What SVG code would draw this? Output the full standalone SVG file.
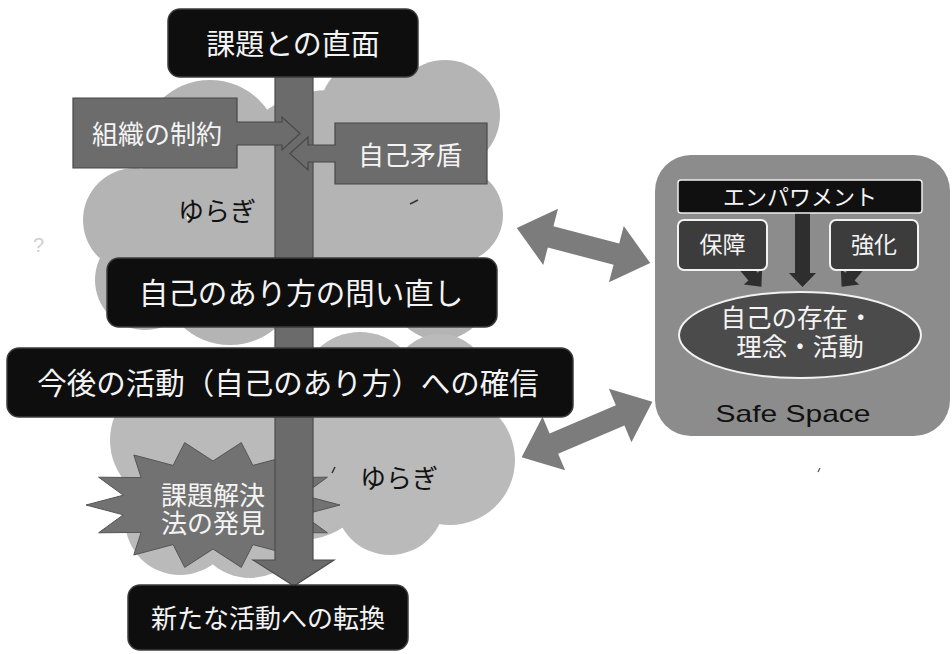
<svg xmlns="http://www.w3.org/2000/svg" width="952" height="654" viewBox="0 0 952 654">
<style>
.cloud1 { fill:#b4b4b4; }
.cloud2 { fill:#bababa; }
.jp { font-family:"Noto Sans CJK JP","Noto Sans CJK SC",sans-serif; text-anchor:middle; }
.wt { fill:#f4f4f4; }
.bk { fill:#111; }
.blackbox { fill:#0e0e0e; stroke:#3c3c3c; stroke-width:1.5; }
.graybox { fill:#6c6c6c; stroke:#474747; stroke-width:1.2; }
.shaft { fill:#6b6b6b; stroke:#4c4c4c; stroke-width:1.2; }
.dbl { fill:#7c7c7c; }
.panelarrow { fill:#2e2e2e; }
.inner { fill:#3c3c3c; stroke:#f2f2f2; stroke-width:2; }
</style>

<rect x="0" y="0" width="952" height="654" fill="#ffffff"/>

<g id="cloud-upper" class="cloud1">
  <circle cx="210" cy="150" r="70"/>
  <circle cx="135" cy="220" r="52"/>
  <circle cx="145" cy="280" r="50"/>
  <circle cx="445" cy="115" r="55"/>
  <circle cx="455" cy="215" r="48"/>
  <circle cx="440" cy="290" r="50"/>
  <circle cx="330" cy="200" r="110"/>
  <circle cx="230" cy="275" r="70"/>
  <circle cx="370" cy="110" r="50"/>
</g>
<g id="cloud-lower" class="cloud2">
  <circle cx="175" cy="440" r="65"/>
  <circle cx="360" cy="392" r="60"/>
  <circle cx="440" cy="382" r="48"/>
  <circle cx="450" cy="460" r="65"/>
  <circle cx="390" cy="500" r="55"/>
  <circle cx="250" cy="520" r="58"/>
  <circle cx="180" cy="520" r="55"/>
  <circle cx="300" cy="460" r="80"/>
</g>

<text x="33" y="252" font-family="Liberation Sans, sans-serif" font-size="20" fill="#cfcfcf">?</text>

<g id="safe-space">
  <rect x="655" y="155" width="295" height="281" rx="36" fill="#8c8c8c"/>
  <text x="793" y="422" font-family="Liberation Sans, sans-serif" font-size="24" fill="#111" text-anchor="middle" textLength="155" lengthAdjust="spacingAndGlyphs">Safe Space</text>
</g>

<g id="discovery">
  <polygon fill="#727272" stroke="#555" stroke-width="1" points="340,505 302.7,514.8 327.4,532.8 284.9,532.4 292.2,555 252.9,544.6 241.3,567.4 213,549 184.7,567.4 173.1,544.6 133.8,555 141.1,532.4 98.6,532.8 123.3,514.8 86,505 123.3,495.2 98.6,477.2 141.1,477.6 133.8,455 173.1,465.4 184.7,442.6 213,461 241.3,442.6 252.9,465.4 292.2,455 284.9,477.6 327.4,477.2 302.7,495.2"/>
  <text class="jp wt" font-size="26"><tspan x="213" y="505">課題解決</tspan><tspan x="213" y="533">法の発見</tspan></text>
</g>

<g id="connectors">
  <path class="shaft" d="M275,70 H313 V560 H334 L294,586 L253,560 H275 Z"/>
  <polygon class="dbl" points="-69,0 -34,-29 -34,-11 34,-11 34,-29 69,0 34,29 34,11 -34,11 -34,29" transform="translate(583.5,245.5) rotate(14.74)"/>
  <polygon class="dbl" points="-71,0 -36,-29 -36,-11 36,-11 36,-29 71,0 36,29 36,11 -36,11 -36,29" transform="translate(587,429.5) rotate(-22.93)"/>
  <path class="panelarrow" d="M795,210 H810 V273 H816 L802.5,287 L789,273 H795 Z"/>
  <polygon class="panelarrow" points="0,-6 14,-6 14,-12 27,0 14,12 14,6 0,6" transform="translate(744,266) rotate(50)"/>
  <polygon class="panelarrow" points="0,-6 14,-6 14,-12 27,0 14,12 14,6 0,6" transform="translate(859,266) rotate(130)"/>
</g>

<g id="face-issue">
  <rect class="blackbox" x="168" y="9" width="250" height="68" rx="12"/>
  <text class="jp wt" x="293" y="55" font-size="29">課題との直面</text>
</g>

<g id="org-constraint">
  <path class="graybox" d="M73,98 H237 V122 H282 V117 L300,133.5 L282,150 V145 H237 V168 H73 Z"/>
  <text class="jp wt" x="157" y="144" font-size="26">組織の制約</text>
</g>

<g id="self-contradiction">
  <path class="graybox" d="M487,123 V184 H335 V162 H308 V170 L290,153.5 L308,137 V145 H335 V123 Z"/>
  <text class="jp wt" x="410" y="165" font-size="26">自己矛盾</text>
</g>

<g id="yuragi-upper">
  <text class="jp bk" x="217" y="221" font-size="26">ゆらぎ</text>
  <line x1="410" y1="204" x2="418" y2="200" stroke="#333" stroke-width="1.5"/>
</g>

<g id="question-self">
  <rect class="blackbox" x="107" y="258" width="390" height="69" rx="12"/>
  <text class="jp wt" x="301" y="303.5" font-size="29.5">自己のあり方の問い直し</text>
</g>

<g id="conviction">
  <rect class="blackbox" x="7" y="348" width="566" height="69" rx="12"/>
  <text class="jp wt" x="288" y="394" font-size="29.5">今後の活動（自己のあり方）への確信</text>
</g>

<g id="yuragi-lower">
  <text class="jp bk" x="399" y="488" font-size="26">ゆらぎ</text>
  <line x1="332" y1="473" x2="335" y2="467" stroke="#333" stroke-width="1.5"/>
</g>

<g id="new-activity">
  <rect class="blackbox" x="128" y="585" width="280" height="65" rx="12"/>
  <text class="jp wt" x="268" y="628" font-size="26">新たな活動への転換</text>
</g>

<g id="empowerment">
  <rect x="678" y="180" width="244" height="33" rx="3" fill="#101010" stroke="#eeeeee" stroke-width="1.5"/>
  <text class="jp wt" x="800" y="205" font-size="22">エンパワメント</text>
</g>

<g id="guarantee">
  <rect class="inner" x="678" y="220" width="89" height="50" rx="6"/>
  <text class="jp wt" x="722.5" y="253" font-size="23">保障</text>
</g>

<g id="strengthen">
  <rect class="inner" x="830" y="220" width="88" height="50" rx="6"/>
  <text class="jp wt" x="874" y="253" font-size="23">強化</text>
</g>

<g id="self-existence">
  <ellipse cx="800" cy="335" rx="121" ry="43" fill="#4b4b4b" stroke="#f2f2f2" stroke-width="2"/>
  <text class="jp wt" font-size="25.5"><tspan x="797" y="327">自己の存在・</tspan><tspan x="800" y="356">理念・活動</tspan></text>
</g>

<line x1="818" y1="472" x2="820" y2="468" stroke="#555" stroke-width="1.2"/>
</svg>
